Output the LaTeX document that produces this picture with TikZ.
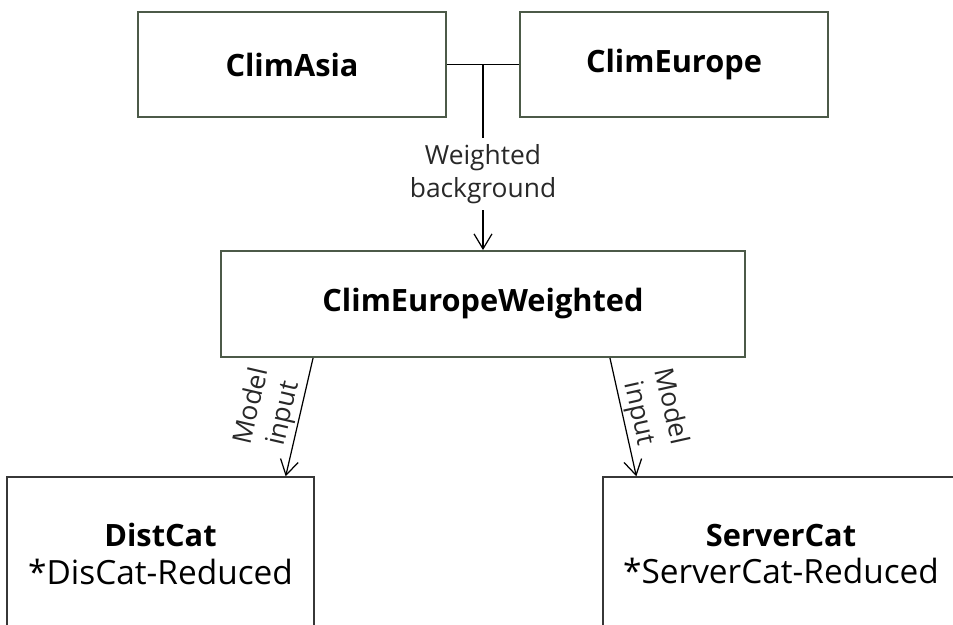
\documentclass[tikz,border=0pt]{standalone}
\usepackage{fontspec}
\setmainfont{Open Sans}
\usepackage{tikz}
\usetikzlibrary{arrows.meta,positioning}
\definecolor{ClimEdge}{RGB}{76,90,72}
\definecolor{CatEdge}{RGB}{55,55,55}
\definecolor{TagText}{RGB}{40,40,40}

\begin{document}
\begin{tikzpicture}[
x=0.02cm, y=-0.02cm,
climbox/.style={
draw=ClimEdge,
line width=1.1pt,
minimum width=6.16cm,
minimum height=2.1cm,
font=\fontsize{17.5}{21}\selectfont\bfseries
},
catbox/.style={
draw=CatEdge,
line width=0.8pt,
minimum height=3.08cm,
align=center,
font=\fontsize{19}{21.6}\selectfont
},
link/.style={draw=black, line width=0.7pt},
flow/.style={link, -{Straight Barb[length=3mm,width=3.6mm]}},
tag/.style={
text=TagText,
align=center,
font=\fontsize{15}{18.5}\selectfont
}
]
\useasboundingbox (0,0) rectangle (953,625);
\clip (0,0) rectangle (953,625);

\node[climbox] (asia) at (292,64.5) {ClimAsia};
\node[climbox] (europe) at (674,64.5) {ClimEurope};
\node[climbox, minimum width=10.48cm, minimum height=2.12cm] (weighted) at (483,304) {ClimEuropeWeighted};

\node[catbox, minimum width=6.14cm] (dist) at (160.5,554) {{\fontsize{17.5}{21.6}\selectfont\bfseries DistCat}\\*DisCat-Reduced};
\node[catbox, minimum width=7.12cm] (server) at (781,554) {{\fontsize{17.5}{21.6}\selectfont\bfseries ServerCat}\\*ServerCat-Reduced};

\draw[link] (asia.east) -- (europe.west) coordinate[midway] (tj);
\draw[flow] (tj) -- (tj |- weighted.north)
node[tag, pos=0.59, fill=white, inner sep=4pt] {Weighted\\background};

\draw[flow] ([xshift=1.86cm]weighted.south west) -- ([xshift=-0.58cm]dist.north east)
node[tag, midway, sloped, above, inner sep=1pt] {Model\\input};
\draw[flow] ([xshift=-2.72cm]weighted.south east) -- ([xshift=0.68cm]server.north west)
node[tag, midway, sloped, above, inner sep=1pt] {Model\\input};
\end{tikzpicture}
\end{document}
